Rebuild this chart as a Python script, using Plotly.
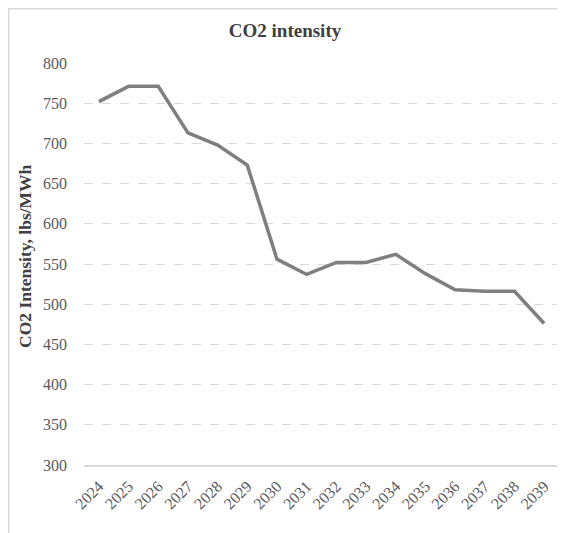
import plotly.graph_objects as go

years = [str(y) for y in range(2024, 2040)]
co2_intensity = [752, 771, 771, 713, 698, 673, 556, 537, 552, 552, 562, 538, 518, 516, 516, 476]
y_ticks = [300, 350, 400, 450, 500, 550, 600, 650, 700, 750, 800]

# the page body has an 8px default margin, so the figure is sized to fit the window
W, H = 557, 525
ml, mr, mt, mb = 76, 6, 55, 68
pw, ph = W - ml - mr, H - mt - mb

fig = go.Figure()
fig.add_trace(go.Scatter(
    x=years, y=co2_intensity, mode="lines",
    line=dict(color="#7f7f7f", width=3.5),
    hoverinfo="skip", showlegend=False,
))

serif = "Liberation Serif, Times New Roman, serif"
fig.update_layout(
    width=W, height=H,
    margin=dict(l=ml, r=mr, t=mt, b=mb, autoexpand=False),
    paper_bgcolor="white", plot_bgcolor="white",
    title=dict(text="<b>CO2 intensity</b>", x=277 / W, xanchor="center",
               y=1 - 22 / H, yanchor="middle",
               font=dict(family=serif, size=19, color="#404040")),
    font=dict(family=serif, color="#595959"),
    xaxis=dict(
        type="category", range=[-0.5, len(years) - 0.5],
        tickangle=-45, tickfont=dict(size=16, color="#595959"),
        showgrid=False, showline=True, linecolor="#d9d9d9", linewidth=1.5,
        ticks="", ticklabelstandoff=4, zeroline=False, automargin=False,
    ),
    yaxis=dict(
        range=[300, 800], tickvals=y_ticks, ticktext=[str(v) for v in y_ticks],
        tickfont=dict(size=16, color="#595959"),
        showgrid=True, gridcolor="#d9d9d9", griddash="dash", gridwidth=1,
        showline=False, zeroline=False, ticks="", ticklabelstandoff=16, automargin=False,
    ),
    annotations=[
        dict(text="<b>CO2 Intensity, lbs/MWh</b>", textangle=-90, showarrow=False,
             xref="paper", yref="paper", x=-(ml - 17) / pw, y=0.52,
             xanchor="center", yanchor="middle",
             font=dict(family=serif, size=17.5, color="#404040")),
    ],
    shapes=[
        dict(type="rect", xref="paper", yref="paper",
             x0=-(ml - 0.75) / pw, x1=1 + (mr - 3) / pw,
             y0=-(mb + 5) / ph, y1=1 + (mt - 0.75) / ph,
             line=dict(color="#d9d9d9", width=1.5), fillcolor="rgba(0,0,0,0)", layer="below"),
    ],
)
fig.write_html("out.html")
